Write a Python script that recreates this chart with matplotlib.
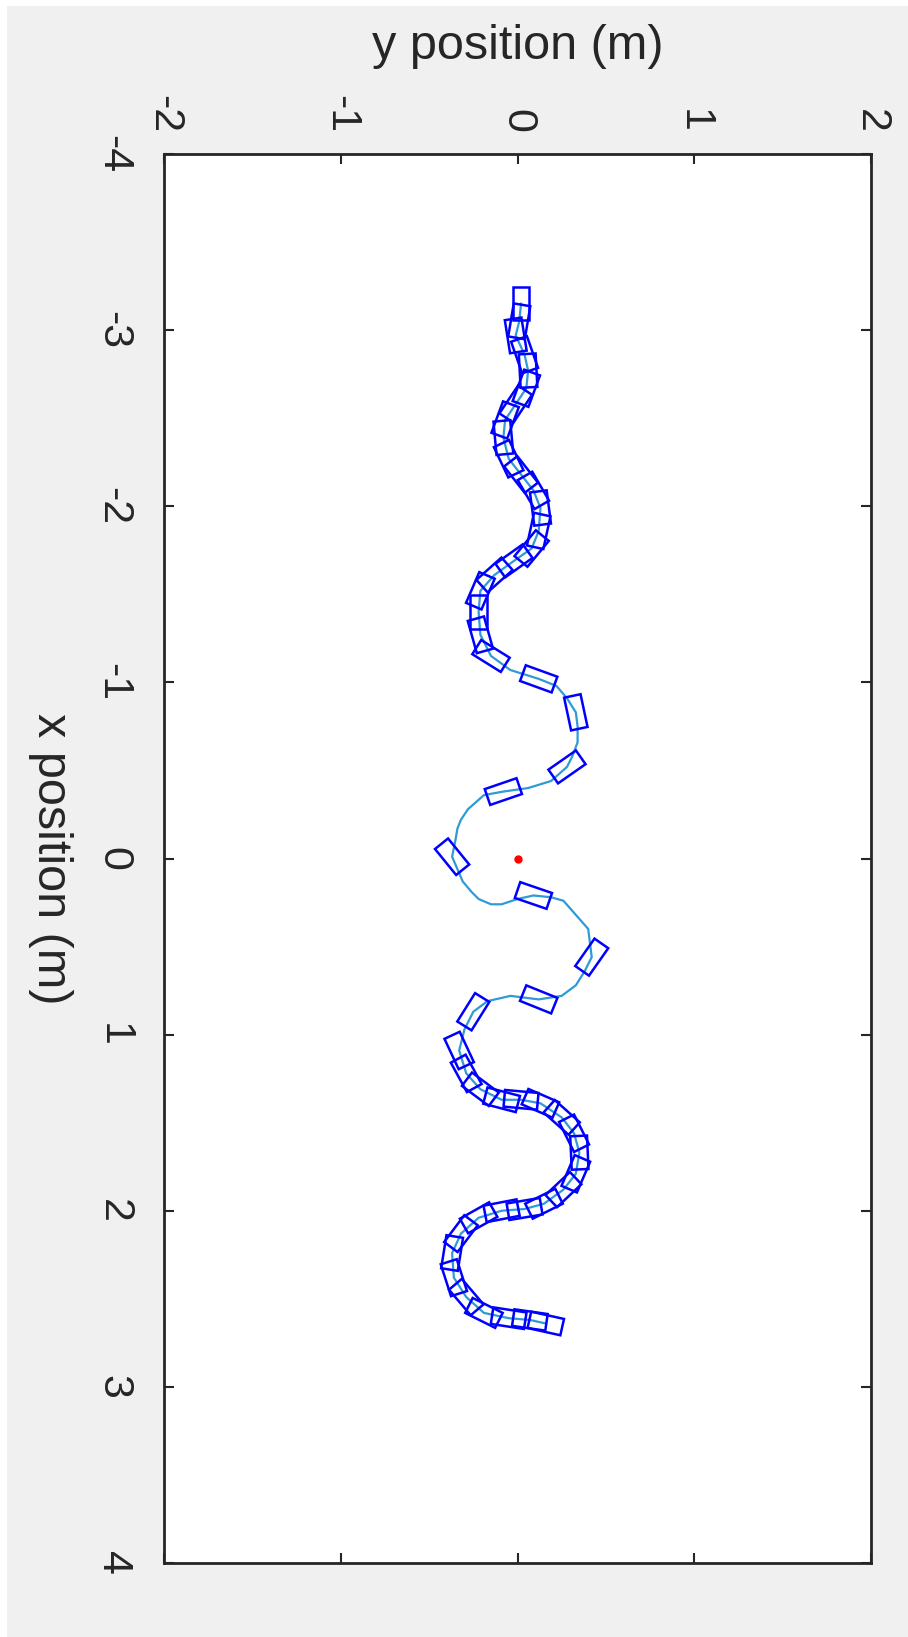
import numpy as np
import matplotlib
matplotlib.use('Agg')
import matplotlib.pyplot as plt
from matplotlib.patches import Polygon, Rectangle

# ---- data (x = forward position, y = lateral position, metres) ----
path_x = [-3.15, -3.05, -2.97, -2.86, -2.77, -2.67, -2.58, -2.49, -2.39, -2.27,
          -2.18, -2.09, -1.99, -1.86, -1.76, -1.69, -1.61, -1.52, -1.40, -1.27,
          -1.15, -1.07, -1.02, -0.98, -0.91, -0.83, -0.75, -0.66, -0.58, -0.52,
          -0.44, -0.40, -0.38, -0.36, -0.28, -0.22, -0.17, -0.11, -0.01, 0.13,
          0.19, 0.23, 0.26, 0.26, 0.23, 0.21, 0.22, 0.24, 0.32, 0.40,
          0.56, 0.64, 0.72, 0.78, 0.80, 0.78, 0.81, 0.87, 0.97, 1.09,
          1.22, 1.31, 1.37, 1.37, 1.39, 1.47, 1.56, 1.67, 1.79, 1.88,
          1.96, 1.99, 2.00, 2.04, 2.13, 2.24, 2.38, 2.49, 2.58, 2.61,
          2.62, 2.64]
path_y = [0.02, 0.01, -0.01, 0.04, 0.06, 0.05, -0.01, -0.07, -0.08, -0.05,
          0.02, 0.09, 0.13, 0.12, 0.08, -0.02, -0.13, -0.21, -0.22, -0.21,
          -0.15, -0.04, 0.12, 0.22, 0.28, 0.33, 0.34, 0.34, 0.31, 0.28,
          0.19, 0.06, -0.08, -0.19, -0.28, -0.32, -0.34, -0.35, -0.37, -0.31,
          -0.26, -0.22, -0.15, -0.09, 0.00, 0.09, 0.19, 0.26, 0.33, 0.40,
          0.42, 0.38, 0.33, 0.25, 0.12, -0.04, -0.17, -0.25, -0.30, -0.33,
          -0.29, -0.21, -0.09, 0.02, 0.13, 0.25, 0.32, 0.35, 0.33, 0.26,
          0.15, 0.04, -0.09, -0.22, -0.32, -0.37, -0.36, -0.29, -0.19, -0.05,
          0.07, 0.16]

# path samples where the robot body outline is drawn
box_idx = list(range(0, 21)) + [22, 25, 29, 32, 38, 45, 50, 54, 57, 59] + list(range(60, 82))
box_heading_override = {0: 0, 20: 58, 22: 70, 25: 12, 29: -55, 32: -71, 38: 39,
                        45: 71, 50: -35, 54: 68, 57: -32, 59: 25}
body_length = 0.19
body_width = 0.095
target_x, target_y = [0.0], [0.0]

x_ticks = [-4, -3, -2, -1, 0, 1, 2, 3, 4]
y_ticks = [-2, -1, 0, 1, 2]

# ---- figure ----
plt.rcParams['font.family'] = ['Liberation Sans', 'DejaVu Sans']
plt.rcParams['axes.unicode_minus'] = False

W, H = 908, 1637
fig = plt.figure(figsize=(W / 100, H / 100), dpi=100)
fig.patch.set_facecolor('white')
fig.add_artist(Rectangle((7 / W, 0), 1, 1 - 6 / H, transform=fig.transFigure,
                         facecolor='#f0f0f0', edgecolor='none', zorder=-5))

ax = fig.add_axes([164 / W, 1 - 1563 / H, (871 - 164) / W, (1563 - 154) / H])
ax.set_facecolor('white')

px = np.array(path_x)
py = np.array(path_y)
ax.plot(py, px, color='#2f9ad6', lw=1.6, zorder=2)

gx = np.gradient(px)
gy = np.gradient(py)
for i in box_idx:
    if i in box_heading_override:
        th = np.deg2rad(box_heading_override[i])
    else:
        th = np.arctan2(gy[i], gx[i])
    c, s = np.cos(th), np.sin(th)
    corners = []
    for a, b in [(1, 1), (1, -1), (-1, -1), (-1, 1)]:
        lx = a * body_length / 2
        ly = b * body_width / 2
        wx = px[i] + c * lx - s * ly
        wy = py[i] + s * lx + c * ly
        corners.append((wy, wx))
    ax.add_patch(Polygon(corners, closed=True, fill=False, edgecolor='#0000ff',
                         lw=1.8, zorder=3))

ax.plot(target_y, target_x, 'o', color='#ff0000', markersize=5, zorder=4)

ax.set_xlim(-2, 2)
ax.set_ylim(4, -4)
ax.set_xticks(y_ticks)
ax.set_yticks(x_ticks)

dark = '#262626'
for sp in ax.spines.values():
    sp.set_color(dark)
    sp.set_linewidth(2.0)

ax.xaxis.set_ticks_position('both')
ax.yaxis.set_ticks_position('both')
ax.tick_params(axis='x', which='both', direction='in', length=7, width=1.5,
               top=True, bottom=True, labeltop=True, labelbottom=False,
               labelrotation=-90, pad=15, labelsize=31, colors=dark)
ax.tick_params(axis='y', which='both', direction='in', length=7, width=1.5,
               left=True, right=True, labelleft=True, labelright=False,
               labelrotation=-90, pad=22, labelsize=31, colors=dark)
for t in ax.yaxis.get_major_ticks():
    t.label1.set_va('center')

ax.set_xlabel('y position (m)', fontsize=35, color=dark, va='center', ha='center')
ax.xaxis.set_label_position('top')
ax.xaxis.set_label_coords(0.5, 1 + (154 - 59) / (1563 - 154))
ax.set_ylabel('x position (m)', fontsize=35, color=dark, rotation=-90,
              va='center', ha='center')
ax.yaxis.set_label_coords((50 - 164) / (871 - 164), 0.5)

fig.savefig('out.png', dpi=100, facecolor=fig.get_facecolor())
